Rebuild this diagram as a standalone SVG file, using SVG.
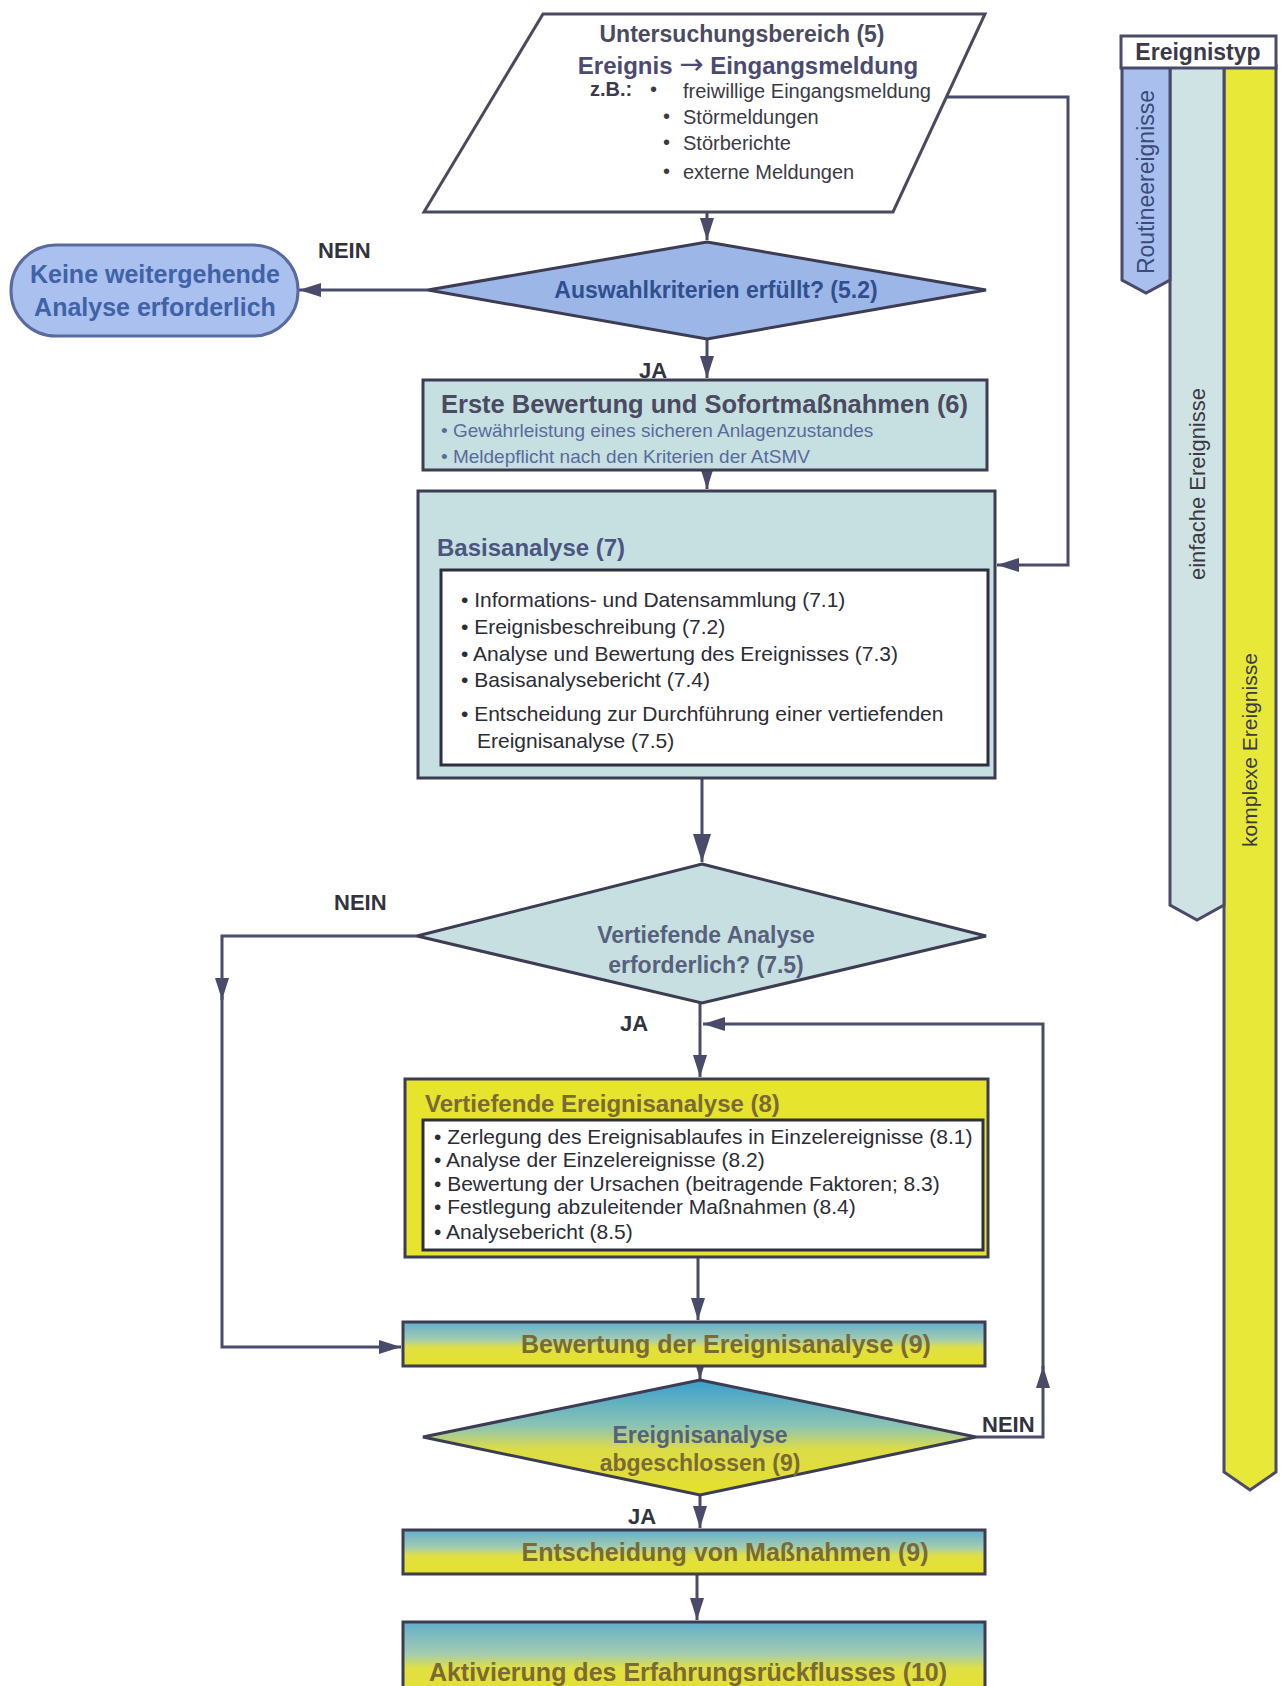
<svg xmlns="http://www.w3.org/2000/svg" width="1281" height="1686" viewBox="0 0 1281 1686">
<defs>
<style>
.t{font-family:"Liberation Sans",Arial,Helvetica,sans-serif}
.b{font-weight:bold}
.ln{fill:none;stroke:#4a4a6a;stroke-width:3}
.bx{stroke:#3c3c52;stroke-width:3}
.ib{fill:#ffffff;stroke:#2e2e3e;stroke-width:3}
.lbl{font-family:"Liberation Sans",Arial,sans-serif;font-weight:bold;font-size:22px;fill:#33333f}
.bul{font-family:"Liberation Sans",Arial,sans-serif;font-size:21px;fill:#2c2c34}
.gt{font-family:"Liberation Sans",Arial,sans-serif;font-weight:bold;font-size:25px;fill:#7a6a34;text-anchor:middle}
</style>
<marker id="ah" markerUnits="userSpaceOnUse" markerWidth="24" markerHeight="16" refX="22" refY="8" orient="auto">
<path d="M0,1 L22,8 L0,15 Z" fill="#4a4a6a"/>
</marker>
<marker id="ahb" markerUnits="userSpaceOnUse" markerWidth="30" markerHeight="20" refX="28" refY="10" orient="auto">
<path d="M0,1 L28,10 L0,19 Z" fill="#4a4a6a"/>
</marker>
<linearGradient id="gBox" x1="0" y1="0" x2="0" y2="1">
<stop offset="0" stop-color="#62aecc"/>
<stop offset="0.4" stop-color="#a4ccb0"/>
<stop offset="0.58" stop-color="#e0e042"/>
<stop offset="1" stop-color="#e6e02c"/>
</linearGradient>
<linearGradient id="gDia" x1="0" y1="0" x2="0" y2="1">
<stop offset="0" stop-color="#3a9ecc"/>
<stop offset="0.4" stop-color="#8cc4b4"/>
<stop offset="0.6" stop-color="#dcdc48"/>
<stop offset="1" stop-color="#e6e02c"/>
</linearGradient>
</defs>
<rect x="0" y="0" width="1281" height="1686" fill="#ffffff"/>

<g id="connectors">
<path class="ln" d="M707,212 V240" marker-end="url(#ah)"/>
<path class="ln" d="M428,290 H299" marker-end="url(#ah)"/>
<path class="ln" d="M707,339 V378" marker-end="url(#ah)"/>
<path class="ln" d="M707,470 V489" marker-end="url(#ah)"/>
<path class="ln" d="M946,97 H1068 V565 H997" marker-end="url(#ah)"/>
<path class="ln" d="M702,778 V862" marker-end="url(#ahb)"/>
<path class="ln" d="M417,936 H222 V1000" marker-end="url(#ah)"/>
<path class="ln" d="M222,996 V1347 H401" marker-end="url(#ah)"/>
<path class="ln" d="M700,1003 V1077" marker-end="url(#ah)"/>
<path class="ln" d="M976,1437 H1043 V1366" marker-end="url(#ah)"/>
<path class="ln" d="M1043,1370 V1024 H703" marker-end="url(#ah)"/>
<path class="ln" d="M698,1257 V1320" marker-end="url(#ah)"/>
<path class="ln" d="M700,1366 V1379" marker-end="url(#ah)"/>
<path class="ln" d="M700,1495 V1528" marker-end="url(#ah)"/>
<path class="ln" d="M697,1574 V1620" marker-end="url(#ah)"/>
<text class="lbl" x="318" y="258">NEIN</text>
<text class="lbl" x="639" y="378">JA</text>
<text class="lbl" x="334" y="910">NEIN</text>
<text class="lbl" x="620" y="1031">JA</text>
<text class="lbl" x="982" y="1432">NEIN</text>
<text class="lbl" x="628" y="1524">JA</text>
</g>

<g id="input">
<polygon points="543,14 985,14 893,212 424,212" fill="#ffffff" stroke="#4a4a5e" stroke-width="3"/>
<text class="t b" x="742" y="42" font-size="23" fill="#4a4a60" text-anchor="middle">Untersuchungsbereich (5)</text>
<text class="t b" x="748" y="74" font-size="24" fill="#4a4a72" text-anchor="middle">Ereignis <tspan font-family="DejaVu Sans" font-weight="normal" font-size="29">→</tspan> Eingangsmeldung</text>
<text class="t b" x="590" y="96" font-size="20" fill="#3a3a48">z.B.:</text>
<g class="t" font-size="20" fill="#3a3a44">
<text x="650" y="96">•</text>
<text x="683" y="98">freiwillige Eingangsmeldung</text>
<text x="663" y="123">•</text>
<text x="683" y="124">Störmeldungen</text>
<text x="663" y="149">•</text>
<text x="683" y="150">Störberichte</text>
<text x="663" y="178">•</text>
<text x="683" y="179">externe Meldungen</text>
</g>
</g>

<g id="decision1">
<polygon points="707,242 986,290 707,339 428,290" fill="#9cb6e8" class="bx"/>
<text class="t b" x="716" y="298" font-size="23" fill="#2f4f8e" text-anchor="middle">Auswahlkriterien erfüllt? (5.2)</text>
</g>

<g id="no_analysis">
<rect x="11" y="245" width="287" height="91" rx="45" ry="45" fill="#aac0ee" stroke="#5a6aa0" stroke-width="3"/>
<text class="t b" x="155" y="283" font-size="25" fill="#3f62a8" text-anchor="middle">Keine weitergehende</text>
<text class="t b" x="155" y="316" font-size="25" fill="#3f62a8" text-anchor="middle">Analyse erforderlich</text>
</g>

<g id="first_eval">
<rect x="423" y="380" width="564" height="90" fill="#c6e0e2" class="bx"/>
<text class="t b" x="441" y="413" font-size="25.5" fill="#4a4a60">Erste Bewertung und Sofortmaßnahmen (6)</text>
<text class="t" x="441" y="437" font-size="19" fill="#5a6a9c">• Gewährleistung eines sicheren Anlagenzustandes</text>
<text class="t" x="441" y="463" font-size="19" fill="#5a6a9c">• Meldepflicht nach den Kriterien der AtSMV</text>
</g>

<g id="base_analysis">
<rect x="418" y="491" width="577" height="287" fill="#c6e0e2" class="bx"/>
<text class="t b" x="437" y="556" font-size="24" fill="#4a5680">Basisanalyse (7)</text>
<rect x="441" y="570" width="547" height="195" class="ib"/>
<text class="bul" x="461" y="607">•  Informations- und Datensammlung (7.1)</text>
<text class="bul" x="461" y="634">•  Ereignisbeschreibung (7.2)</text>
<text class="bul" x="461" y="661">•  Analyse und Bewertung des Ereignisses (7.3)</text>
<text class="bul" x="461" y="687">•  Basisanalysebericht (7.4)</text>
<text class="bul" x="461" y="721">•  Entscheidung zur Durchführung einer vertiefenden</text>
<text class="bul" x="477" y="748">Ereignisanalyse (7.5)</text>
</g>

<g id="decision2">
<polygon points="702,864 986,936 702,1003 417,936" fill="#c8dfe2" class="bx"/>
<text class="t b" x="706" y="943" font-size="23" fill="#56627c" text-anchor="middle">Vertiefende Analyse</text>
<text class="t b" x="706" y="973" font-size="23" fill="#56627c" text-anchor="middle">erforderlich? (7.5)</text>
</g>

<g id="deep_analysis">
<rect x="405" y="1079" width="583" height="178" fill="#e6e42c" class="bx"/>
<text class="t b" x="425" y="1112" font-size="24" fill="#7a6a34">Vertiefende Ereignisanalyse (8)</text>
<rect x="423" y="1120" width="560" height="130" class="ib"/>
<text class="bul" x="434" y="1144">• Zerlegung des Ereignisablaufes in Einzelereignisse (8.1)</text>
<text class="bul" x="434" y="1167">• Analyse der Einzelereignisse (8.2)</text>
<text class="bul" x="434" y="1191">• Bewertung der Ursachen (beitragende Faktoren; 8.3)</text>
<text class="bul" x="434" y="1214">• Festlegung abzuleitender Maßnahmen (8.4)</text>
<text class="bul" x="434" y="1239">• Analysebericht (8.5)</text>
</g>

<g id="eval9">
<rect x="403" y="1322" width="582" height="44" fill="url(#gBox)" class="bx"/>
<text class="gt" x="726" y="1353">Bewertung der Ereignisanalyse (9)</text>
</g>

<g id="decision3">
<polygon points="700,1380 976,1437 700,1495 423,1437" fill="url(#gDia)" class="bx"/>
<text class="t b" x="700" y="1443" font-size="23" fill="#56627c" text-anchor="middle">Ereignisanalyse</text>
<text class="t b" x="700" y="1471" font-size="23" fill="#7a6a34" text-anchor="middle">abgeschlossen (9)</text>
</g>

<g id="measures">
<rect x="403" y="1530" width="582" height="44" fill="url(#gBox)" class="bx"/>
<text class="gt" x="725" y="1561">Entscheidung von Maßnahmen (9)</text>
</g>

<g id="feedback">
<rect x="403" y="1622" width="582" height="80" fill="url(#gBox)" class="bx"/>
<text class="gt" x="688" y="1681" font-size="24.5">Aktivierung des Erfahrungsrückflusses (10)</text>
</g>

<g id="event_types">
<path d="M1224,66 H1276 V1472 L1250,1490 L1224,1472 Z" fill="#e8e838" stroke="#4a4a6a" stroke-width="3"/>
<path d="M1170,66 H1224 V905 L1197,920 L1170,905 Z" fill="#d0e3e4" stroke="#4a4a6a" stroke-width="3"/>
<path d="M1122,66 H1170 V280 L1146,293 L1122,280 Z" fill="#a9c0ee" stroke="#4a4a6a" stroke-width="3"/>
<rect x="1121" y="36" width="155" height="32" fill="#ffffff" stroke="#4a4a6a" stroke-width="3"/>
<text class="t b" x="1198" y="60" font-size="23" fill="#3a3a4a" text-anchor="middle">Ereignistyp</text>
<text class="t" x="1146" y="182" font-size="23" fill="#3a4a7a" text-anchor="middle" transform="rotate(-90 1146 182)" dy="8">Routineereignisse</text>
<text class="t" x="1197" y="484" font-size="22" fill="#3a3a42" text-anchor="middle" transform="rotate(-90 1197 484)" dy="8">einfache Ereignisse</text>
<text class="t" x="1250" y="750" font-size="21" fill="#3a3a42" text-anchor="middle" transform="rotate(-90 1250 750)" dy="7">komplexe Ereignisse</text>
</g>
</svg>
